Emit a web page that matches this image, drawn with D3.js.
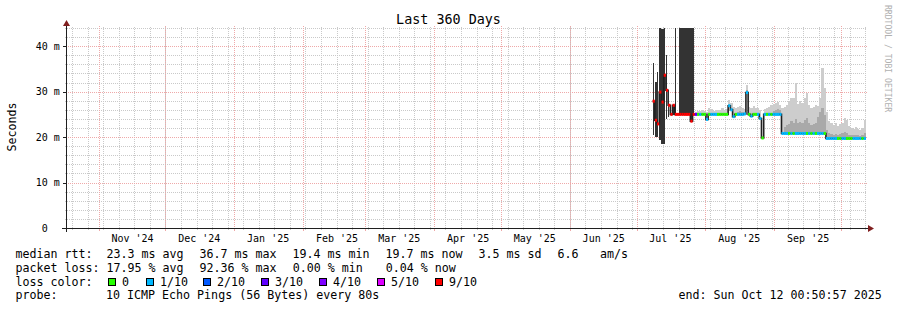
<!DOCTYPE html>
<html><head><meta charset="utf-8">
<script src="https://cdn.jsdelivr.net/npm/d3@7"></script>
<style>
html,body{margin:0;padding:0;background:#fff;}
svg{display:block;}
text{font-family:"DejaVu Sans Mono",monospace;white-space:pre;fill:#000;}
</style></head><body>
<svg id="chart" width="897" height="310"></svg>
<script>
// ---------- data ----------
const titleText = "Last 360 Days";
const yAxisTitle = "Seconds";
const watermark = "RRDTOOL / TOBI OETIKER";
const endStamp = "2025-10-12T00:50:57Z";   // local clock time of graph end
const spanDays = 360;
const firstSample = "2025-07-08T00:00:00Z"; // one sample per day from here
const monthStarts = ["2024-11-01","2024-12-01","2025-01-01","2025-02-01","2025-03-01","2025-04-01","2025-05-01","2025-06-01","2025-07-01","2025-08-01","2025-09-01","2025-10-01"];
const monthLabels = ["Nov '24","Dec '24","Jan '25","Feb '25","Mar '25","Apr '25","May '25","Jun '25","Jul '25","Aug '25","Sep '25","Oct '25"];
const yTicks = [0, 10, 20, 30, 40];
const yTickLabels = ["0  ", "10 m", "20 m", "30 m", "40 m"];

// median rtt (ms) per day
const median = [27.9,23.7,22.9,29.9,27.7,33.6,30.3,27.0,25.0,27.0,
  25.0,25.0,25.0,25.0,25.0,25.0,25.0,23.5,25.0,25.0,
  25.0,25.0,25.0,25.0,23.9,25.0,25.0,25.0,25.0,25.0,
  25.0,25.0,25.0,25.0,26.9,26.0,24.5,25.0,25.0,25.0,
  25.0,25.1,29.8,25.0,24.6,25.0,25.0,25.0,24.1,19.8,
  25.0,25.0,25.0,25.0,25.0,25.0,25.0,25.0,20.8,20.8,
  20.8,20.8,20.8,20.8,20.8,20.8,20.8,20.8,20.8,20.8,
  20.8,20.8,20.8,20.8,20.8,20.8,20.8,20.8,19.7,19.7,
  19.7,19.7,19.7,19.7,19.7,19.7,19.7,19.7,19.7,19.7,
  19.7,19.7,19.7,19.7,19.7,19.7];
// lost pings out of 10 per day
const loss = [9,9,9,9,9,9,9,9,9,9,
  9,9,9,9,9,9,9,9,9,3,
  0,1,0,0,1,0,1,1,1,0,
  0,0,0,0,1,1,1,0,1,1,
  1,1,1,0,1,0,0,1,1,0,
  1,0,1,0,1,1,1,1,1,1,
  1,0,1,0,1,1,1,1,1,0,
  1,0,1,0,1,1,1,0,1,1,
  1,1,1,0,0,1,1,0,0,0,
  1,1,1,1,0,1];
// smoke: highest ping (ms)
const smokeMax = [null,null,null,null,null,null,null,null,null,null,
  null,null,null,null,null,null,null,null,null,25.6,
  25.8,25.7,26.0,25.8,25.6,26.3,26.2,25.8,25.9,26.0,
  25.9,26.3,26.0,26.2,28.1,27.4,26.6,26.4,26.6,26.8,
  26.5,26.2,31.4,26.6,26.4,26.8,26.3,26.5,25.9,20.3,
  26.2,26.5,26.7,27.1,27.3,27.6,27.8,27.0,26.4,26.6,
  27.0,27.7,28.5,28.5,31.9,27.2,28.0,27.5,28.6,29.7,
  27.0,26.3,26.6,27.1,26.8,28.5,35.2,30.8,25.5,23.6,
  23.0,22.6,23.2,22.4,22.9,23.1,24.2,23.7,22.5,22.0,
  21.8,22.2,21.7,21.5,22.0,23.7];
// smoke: inner (denser) band top (ms)
const smokeMid = [null,null,null,null,null,null,null,null,null,null,
  null,null,null,null,null,null,null,null,null,null,
  null,null,null,null,null,null,null,null,null,null,
  null,null,null,null,26.0,26.4,null,null,25.6,25.7,
  25.6,null,30.3,null,null,null,null,null,null,null,
  null,null,null,null,25.8,26.0,26.2,25.9,null,22.2,
  22.6,22.9,23.5,23.2,24.0,23.0,23.4,23.1,23.8,24.2,
  23.0,22.6,22.8,23.2,24.5,25.6,26.5,24.8,21.5,20.8,
  20.6,20.5,20.7,20.5,20.6,20.8,21.2,20.9,20.5,20.4,
  20.4,20.5,20.4,20.3,20.5,20.8];
// heavy-loss period: spread of the rtt within a day (ms)
const spreadHi = [36.3,32.1,34.3,45,43.7,45,38.0,27.0,null,27.3,
  45,null,45,45,45,45,45,45,45];
const spreadLo = [20.4,20.0,20.0,19.3,18.5,18.5,24.0,24.4,null,24.8,
  24.8,null,25.0,25.0,25.0,25.0,25.0,23.5,25.0];

const lossLegend = ["0","1/10","2/10","3/10","4/10","5/10","9/10"];
const lossLegendColors = ["#26ff00","#00b8ff","#0059ff","#5e00ff","#7e00ff","#dd00ff","#ff0000"];
const lossColorOf = {0:"#26ff00",1:"#00b8ff",2:"#0059ff",3:"#5e00ff",4:"#7e00ff",5:"#dd00ff",6:"#dd00ff",7:"#dd00ff",8:"#dd00ff",9:"#ff0000",10:"#ff0000"};

const rttLabel = "median rtt:";
const rttStats = ["23.3 ms avg","36.7 ms max","19.4 ms min","19.7 ms now","3.5 ms sd"];
const rttExtra = ["6.6","am/s"];
const lossLabel = "packet loss:";
const lossStats = ["17.95 % avg","92.36 % max","0.00 % min","0.04 % now"];
const colorLabel = "loss color:";
const probeLabel = "probe:";
const probeText = "10 ICMP Echo Pings (56 Bytes) every 80s";
const endText = "end: Sun Oct 12 00:50:57 2025";

// ---------- drawing ----------
const svg = d3.select("#chart");
const endDate = new Date(endStamp);
const startDate = d3.utcDay.offset(endDate, -spanDays);
const X0 = 66, X1 = 866, Y0 = 228, Y1 = 28;
const x = d3.scaleUtc().domain([startDate, endDate]).range([X0, X1]);
const y = d3.scaleLinear().domain([0, 44]).range([Y0, Y1]);
const px = v => Math.floor(v) + 0.5;
const py = v => Math.round(v) + 0.5;
const clampY = v => Math.max(Y1, Math.min(Y0, y(v)));

const minorCol = "#c9c9c9", majorCol = "#efa9a9";
const grid = svg.append("g").attr("shape-rendering", "crispEdges");

// minor vertical grid (weekly)
d3.utcSunday.range(startDate, endDate).forEach(d => {
  const xx = px(x(d));
  grid.append("line").attr("x1", xx).attr("x2", xx).attr("y1", Y1 - 1).attr("y2", Y0)
    .attr("stroke", minorCol).attr("stroke-dasharray", "1,1");
  grid.append("line").attr("x1", xx).attr("x2", xx).attr("y1", Y0).attr("y2", Y0 + 2)
    .attr("stroke", minorCol);
});
// minor horizontal grid
d3.range(2, 45, 2).filter(v => v % 10 !== 0).forEach(v => {
  const yy = py(y(v));
  grid.append("line").attr("x1", X0 - 1).attr("x2", X1 + 1).attr("y1", yy).attr("y2", yy)
    .attr("stroke", minorCol).attr("stroke-dasharray", "1,1");
});
// major vertical grid (months)
const monthDates = monthStarts.map(s => new Date(s + "T00:00:00Z"));
monthDates.forEach(d => {
  if (d < startDate || d > endDate) return;
  const xx = px(x(d));
  grid.append("line").attr("x1", xx).attr("x2", xx).attr("y1", Y1 - 2).attr("y2", Y0)
    .attr("stroke", majorCol).attr("stroke-dasharray", "1,1");
  grid.append("line").attr("x1", xx).attr("x2", xx).attr("y1", Y0).attr("y2", Y0 + 3)
    .attr("stroke", majorCol);
});
// major horizontal grid
yTicks.forEach(v => {
  if (v === 0) return;
  const yy = py(y(v));
  grid.append("line").attr("x1", X0 - 2).attr("x2", X1 + 2).attr("y1", yy).attr("y2", yy)
    .attr("stroke", majorCol).attr("stroke-dasharray", "1,1");
  grid.append("line").attr("x1", X0 - 2).attr("x2", X0).attr("y1", yy).attr("y2", yy)
    .attr("stroke", majorCol);
});

// samples
const day0 = new Date(firstSample);
const samples = median.map((m, i) => {
  const t0 = d3.utcDay.offset(day0, i), t1 = d3.utcDay.offset(day0, i + 1);
  return {i, t0, t1, x0: x(t0), x1: Math.min(X1, x(t1)), med: m, loss: loss[i],
    smax: smokeMax[i], smid: smokeMid[i],
    shi: i < spreadHi.length ? spreadHi[i] : null,
    slo: i < spreadLo.length ? spreadLo[i] : null};
});

const data = svg.append("g").attr("shape-rendering", "crispEdges");
// light smoke
data.selectAll("rect.smoke").data(samples.filter(d => d.smax != null)).join("rect")
  .attr("x", d => d.x0).attr("width", d => d.x1 - d.x0)
  .attr("y", d => clampY(d.smax)).attr("height", d => Math.max(0, y(d.med) - clampY(d.smax)))
  .attr("fill", "#cdcdcd");
// inner smoke
data.selectAll("rect.smid").data(samples.filter(d => d.smid != null)).join("rect")
  .attr("x", d => d.x0).attr("width", d => d.x1 - d.x0)
  .attr("y", d => clampY(d.smid)).attr("height", d => Math.max(0, y(d.med) - clampY(d.smid)))
  .attr("fill", "#a9a9a9");
// heavy-loss spread (separate strokes unless the next day continues the block)
const continues = d => {
  const n = samples[d.i + 1];
  return n && n.shi != null && Math.abs(n.shi - d.shi) < 3;
};
data.selectAll("rect.spread").data(samples.filter(d => d.shi != null)).join("rect")
  .attr("x", d => d.x0).attr("width", d => continues(d) ? d.x1 - d.x0 : Math.max(1, d.x1 - d.x0 - 1))
  .attr("y", d => clampY(d.shi)).attr("height", d => clampY(d.slo) - clampY(d.shi))
  .attr("fill", "#333333");

// median connecting line
const linePts = samples.map(d => [d.x0, y(d.med)]);
const last = samples[samples.length - 1];
linePts.push([last.x1, y(last.med)]);
svg.append("path").attr("d", d3.line().curve(d3.curveStepAfter)(linePts))
  .attr("fill", "none").attr("stroke", "#202020").attr("stroke-width", 1.6);

// loss coloured median
svg.append("g").selectAll("rect").data(samples).join("rect")
  .attr("x", d => d.x0).attr("width", d => d.x1 - d.x0)
  .attr("y", d => y(d.med) - 1.5).attr("height", 3)
  .attr("fill", d => lossColorOf[d.loss]);

// axes
const axisCol = "#1f1f1f", arrowCol = "#801f1f";
const ax = svg.append("g").attr("shape-rendering", "crispEdges");
ax.append("line").attr("x1", X0 - 4).attr("x2", X1 + 4).attr("y1", Y0 + 0.5).attr("y2", Y0 + 0.5).attr("stroke", axisCol);
ax.append("line").attr("x1", X0 + 0.5).attr("x2", X0 + 0.5).attr("y1", Y0 + 4).attr("y2", Y1 - 4).attr("stroke", axisCol);
yTicks.forEach(v => {
  const yy = py(y(v));
  ax.append("line").attr("x1", X0 - 3).attr("x2", X0).attr("y1", yy).attr("y2", yy).attr("stroke", axisCol);
});
svg.append("path").attr("d", `M${X1 + 2},${Y0 - 3}L${X1 + 2},${Y0 + 4}L${X1 + 8},${Y0 + 0.5}Z`).attr("fill", arrowCol);
svg.append("path").attr("d", `M${X0 - 3},${Y1 - 2}L${X0 + 4},${Y1 - 2}L${X0 + 0.5},${Y1 - 8}Z`).attr("fill", arrowCol);

// y tick labels
svg.append("g").selectAll("text").data(yTicks).join("text")
  .attr("x", 59.8).attr("y", v => y(v) + 3.8).attr("text-anchor", "end")
  .attr("font-size", "10px").text((v, i) => yTickLabels[i]);

// x labels centred half a month after month start
svg.append("g").selectAll("text").data(monthDates).join("text")
  .filter(d => { const c = x(d3.utcDay.offset(d, 15)); return c > X0 && c < X1 - 10; })
  .attr("x", d => x(d3.utcDay.offset(d, 15))).attr("y", 241.5).attr("text-anchor", "middle")
  .attr("font-size", "10px").text(d => monthLabels[monthDates.indexOf(d)]);

// title & axis title & watermark
svg.append("text").attr("x", 448.5).attr("y", 23.5).attr("text-anchor", "middle")
  .attr("font-size", "13.4px").text(titleText);
svg.append("text").attr("transform", "translate(15.5,127) rotate(-90)").attr("text-anchor", "middle")
  .attr("font-size", "11.6px").text(yAxisTitle);
svg.append("text").attr("transform", "translate(885,5) rotate(90)").attr("text-anchor", "start")
  .attr("font-size", "8.1px").style("fill", "#b0b0b0").text(watermark);

// legend
const lg = svg.append("g").attr("font-size", "11.65px");
const rowY = [258, 271.8, 285.6, 299.4];
const colX = [106.4, 199.4, 292.4, 385.4, 478.4];
lg.append("text").attr("x", 15.5).attr("y", rowY[0]).text(rttLabel);
rttStats.forEach((s, k) => lg.append("text").attr("x", colX[k]).attr("y", rowY[0]).text(s));
lg.append("text").attr("x", 557.4).attr("y", rowY[0]).text(rttExtra[0]);
lg.append("text").attr("x", 599.9).attr("y", rowY[0]).text(rttExtra[1]);
lg.append("text").attr("x", 15.5).attr("y", rowY[1]).text(lossLabel);
lossStats.forEach((s, k) => lg.append("text").attr("x", colX[k] + (k === 2 || k === 3 ? 0.4 : 0)).attr("y", rowY[1]).text(s));
lg.append("text").attr("x", 15.5).attr("y", rowY[2]).text(colorLabel);
const swatchX = [108, 146, 203, 261, 319, 377, 435];
lossLegend.forEach((lab, k) => {
  lg.append("rect").attr("x", swatchX[k] + 0.5).attr("y", 278.5).attr("width", 7).attr("height", 7)
    .attr("fill", lossLegendColors[k]).attr("stroke", "#000").attr("stroke-width", 1).attr("shape-rendering", "crispEdges");
  lg.append("text").attr("x", swatchX[k] + 14).attr("y", rowY[2]).text(lab);
});
lg.append("text").attr("x", 15.5).attr("y", rowY[3]).text(probeLabel);
lg.append("text").attr("x", 106).attr("y", rowY[3]).text(probeText);
lg.append("text").attr("x", 881.7).attr("y", rowY[3]).attr("text-anchor", "end").text(endText);
</script>
</body></html>
